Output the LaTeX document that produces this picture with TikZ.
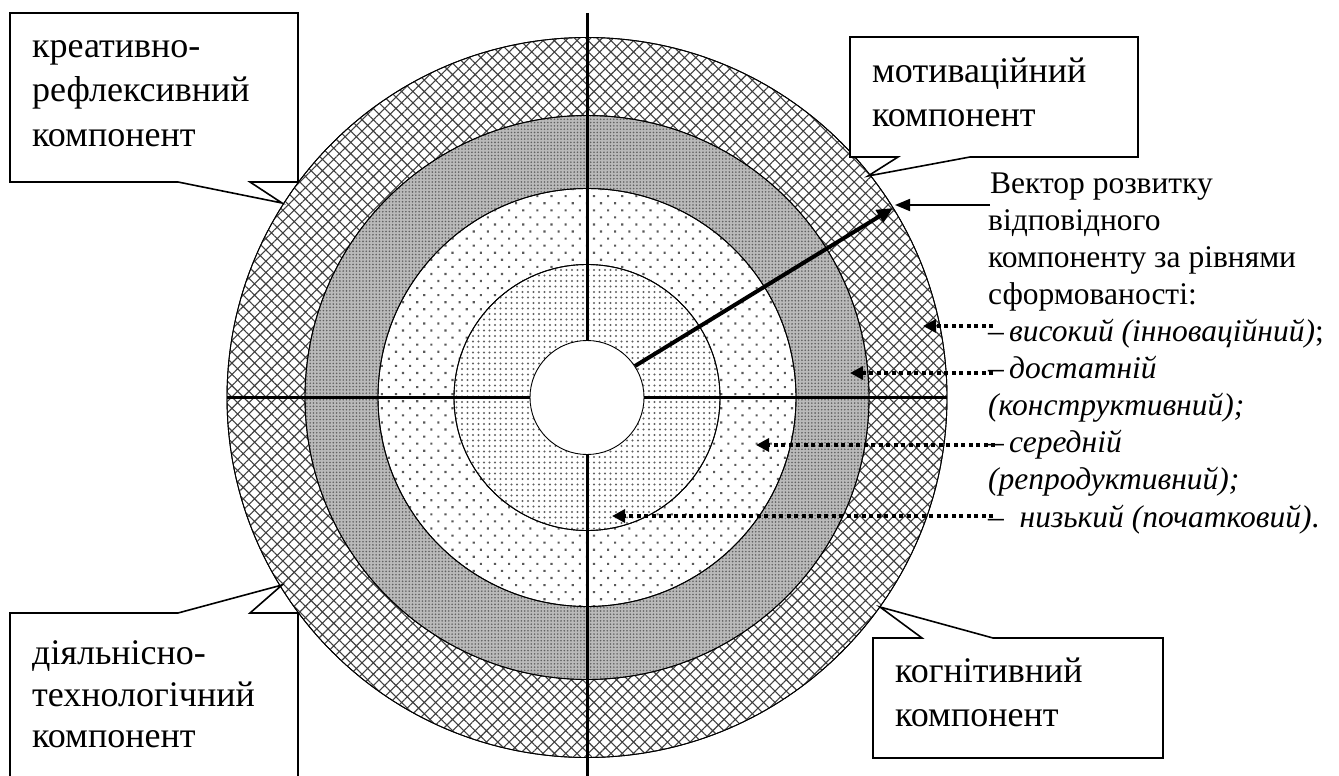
\documentclass[tikz,border=0pt]{standalone}
\usepackage{fontspec}
\setmainfont{Liberation Serif}
\usetikzlibrary{patterns.meta,arrows.meta}
\begin{document}
\begin{tikzpicture}[x=1pt,y=-1pt,
  boxtxt/.style={anchor=base west, inner sep=0pt, font=\fontsize{36}{42}\selectfont},
  vtxt/.style={anchor=base west, inner sep=0pt, font=\fontsize{31.5}{37}\selectfont},
  callout/.style={draw=black, line width=1.6pt, line join=miter},
  ringline/.style={draw=black, line width=0.9pt},
  axisline/.style={line width=3pt},
  dotarrow/.style={line width=4pt, dash pattern=on 4pt off 3.5pt, -{Triangle[length=13pt,width=13pt]}},
  ]
\useasboundingbox (0,0) rectangle (1339,776);
\coordinate (O) at (587,397.5);
% rings
\path[ringline, fill=white, postaction={pattern={Hatch[angle=45,distance=8pt,line width=1.1pt]}, pattern color=black!75}] (O) circle[radius=360pt];
\path[ringline, fill=black!27, postaction={pattern={Dots[distance=3.3pt,radius=0.9pt]}, pattern color=black!62}] (O) circle[radius=282pt];
\path[ringline, fill=white, postaction={pattern={Dots[angle=45,distance=10pt,radius=1.5pt]}, pattern color=black!65}] (O) circle[radius=209pt];
\path[ringline, fill=white, postaction={pattern={Dots[distance=5.5pt,radius=1.1pt]}, pattern color=black!62}] (O) circle[radius=133pt];
\draw[ringline] (O) circle[radius=360pt] (O) circle[radius=282pt] (O) circle[radius=209pt] (O) circle[radius=133pt];
% axes
\coordinate (vt) at (587,13);
\coordinate (vb) at (587,776);
\coordinate (hl) at (227,397.5);
\coordinate (hr) at (947,397.5);
\draw[axisline] (vt) -- (vb);
\draw[axisline] (hl) -- (hr);
% inner circle
\path[ringline, fill=white] (O) circle[radius=57pt];
% callout boxes
\draw[callout, fill=white] (10,13) -- (298,13) -- (298,182) -- (250,182) -- (282,203) -- (178,182) -- (10,182) -- cycle;
\draw[callout, fill=white] (850,37) -- (1138,37) -- (1138,157) -- (970,157) -- (868,176) -- (898,157) -- (850,157) -- cycle;
\fill[white] (10,780) -- (10,613) -- (178,613) -- (282,585) -- (250,613) -- (298,613) -- (298,780) -- cycle;
\draw[callout] (10,780) -- (10,613) -- (178,613) -- (282,585) -- (250,613) -- (298,613) -- (298,780);
\draw[callout, fill=white] (873,638) -- (922,638) -- (880,607) -- (993,638) -- (1163,638) -- (1163,758) -- (873,758) -- cycle;
% box texts
\node[boxtxt] (k1) at (32,58) {креативно-};
\node[boxtxt] (k2) at (32,102) {рефлексивний};
\node[boxtxt] (k3) at (32,146) {компонент};
\node[boxtxt] (m1) at (872,82) {мотиваційний};
\node[boxtxt] (m2) at (872,126) {компонент};
\node[boxtxt] (d1) at (32,664) {діяльнісно-};
\node[boxtxt] (d2) at (32,706) {технологічний};
\node[boxtxt] (d3) at (32,747) {компонент};
\node[boxtxt] (g1) at (895,682) {когнітивний};
\node[boxtxt] (g2) at (895,726) {компонент};
% right text
\node[vtxt] (t1) at (990,193) {Вектор розвитку};
\node[vtxt] (t2) at (988,230) {відповідного};
\node[vtxt] (t3) at (988,267.2) {компоненту за рівнями};
\node[vtxt] (t4) at (988,304.3) {сформованості:};
\node[vtxt] (t5) at (988,341.4) {–\,\textit{високий (інноваційний)};};
\node[vtxt] (t6) at (988,378.5) {–\,\textit{достатній}};
\node[vtxt] (t7) at (988,415.6) {\textit{(конструктивний);}};
\node[vtxt] (t8) at (988,452.7) {–\,\textit{середній}};
\node[vtxt] (t9) at (988,489.8) {\textit{(репродуктивний);}};
\node[vtxt] (t10) at (988,527) {–\enspace\textit{низький (початковий)}.};
% vector arrows
\coordinate (vs) at (635,366);
\coordinate (ve) at (893,208);
\draw[line width=4pt, -{Triangle[length=16pt,width=14pt]}] (vs) -- (ve);
\coordinate (hs) at (990,205);
\coordinate (he) at (895,205);
\draw[line width=1.8pt, -{Triangle[length=15pt,width=12pt]}] (hs) -- (he);
% dotted arrows
\coordinate (a1s) at (993,326); \coordinate (a1e) at (923,326);
\coordinate (a2s) at (993,373); \coordinate (a2e) at (850,373);
\coordinate (a3s) at (995,445); \coordinate (a3e) at (756,445);
\coordinate (a4s) at (993,516); \coordinate (a4e) at (612,516);
\draw[dotarrow] (a1s) -- (a1e);
\draw[dotarrow] (a2s) -- (a2e);
\draw[dotarrow] (a3s) -- (a3e);
\draw[dotarrow] (a4s) -- (a4e);
\end{tikzpicture}
\end{document}
